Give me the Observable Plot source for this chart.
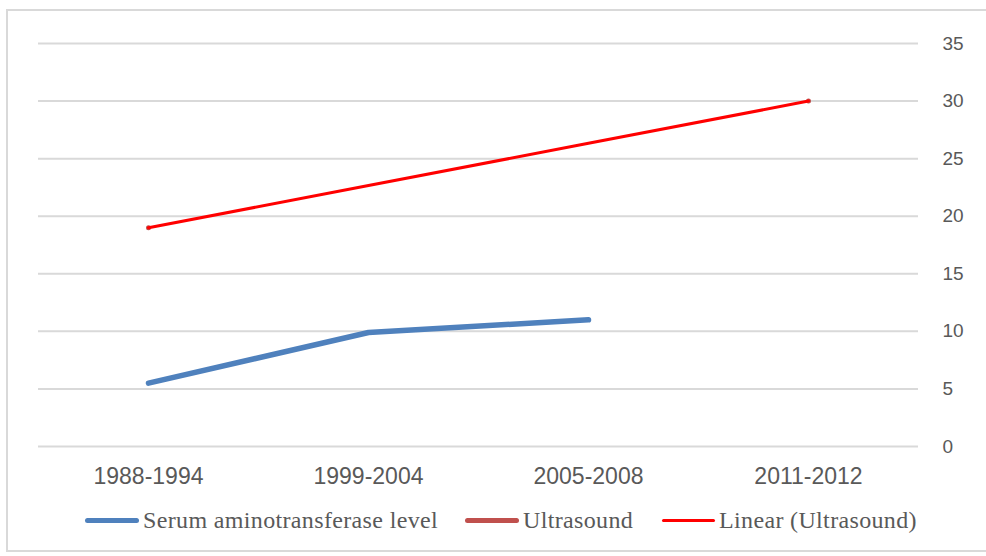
<!DOCTYPE html>
<html>
<head>
<meta charset="utf-8">
<script src="https://cdn.jsdelivr.net/npm/d3@7"></script>
<script src="https://cdn.jsdelivr.net/npm/@observablehq/plot@0.6"></script>
<style>
  html, body { margin: 0; padding: 0; background: #fff; }
  #wrap { position: relative; width: 986px; height: 556px; overflow: hidden; }
  #frame { position: absolute; left: 6px; top: 9px; width: 1000px; height: 543px; border: 2px solid #d9d9d9; box-sizing: border-box; }
  #chart { position: absolute; left: 0; top: 0; }
  .leg { position: absolute; top: 507px; height: 26px; display: flex; align-items: center;
         font-family: "Liberation Serif", serif; font-size: 24px; letter-spacing: 0.35px; color: #595959; white-space: nowrap; }
  .sw { display: inline-block; border-radius: 3px; margin-right: 4px; }
</style>
</head>
<body>
<div id="wrap">
  <div id="frame"></div>
  <div id="chart"></div>
  <div class="leg" style="left:85px"><span class="sw" style="width:54px;height:5px;background:#4F81BD"></span>Serum aminotransferase level</div>
  <div class="leg" style="left:465px"><span class="sw" style="width:54px;height:5px;background:#C0504D"></span>Ultrasound</div>
  <div class="leg" style="left:662px"><span class="sw" style="width:53px;height:3px;background:#FF0000"></span>Linear (Ultrasound)</div>
</div>
<script>
const categories = ["1988-1994", "1999-2004", "2005-2008", "2011-2012"];
const serum = [5.5, 9.9, 11.0, null];
const ultrasound = [19, null, null, 30];
const yTicks = [0, 5, 10, 15, 20, 25, 30, 35];

// linear trend of the Ultrasound series (least squares over its defined points)
const pts = ultrasound.map((v, i) => [i + 1, v]).filter(d => d[1] != null);
const mx = d3.mean(pts, d => d[0]), my = d3.mean(pts, d => d[1]);
const slope = d3.sum(pts, d => (d[0] - mx) * (d[1] - my)) / d3.sum(pts, d => (d[0] - mx) ** 2);
const trend = categories.map((c, i) => ({cat: c, v: my + slope * (i + 1 - mx)}));

const serumData = categories.map((c, i) => ({cat: c, v: serum[i]}));
const ultraData = categories.map((c, i) => ({cat: c, v: ultrasound[i]}));

const chart = Plot.plot({
  width: 986,
  height: 500,
  marginLeft: 38,
  marginRight: 68,
  marginTop: 43,
  marginBottom: 54,
  style: {fontFamily: "'Liberation Sans', Arial, sans-serif", color: "#595959", background: "transparent"},
  x: {type: "point", domain: categories, padding: 0.5},
  y: {domain: [0, 35]},
  marks: [
    Plot.ruleY(yTicks, {stroke: "#d9d9d9", strokeWidth: 2}),
    Plot.axisY({anchor: "right", ticks: yTicks, tickSize: 0, tickPadding: 24, fontSize: 19, label: null, fill: "#595959"}),
    Plot.axisX({anchor: "bottom", tickSize: 0, tickPadding: 21, fontSize: 23, label: null, fill: "#595959"}),
    Plot.line(ultraData, {x: "cat", y: "v", stroke: "#C0504D", strokeWidth: 5, defined: d => d.v != null}),
    Plot.line(trend, {x: "cat", y: "v", stroke: "#FF0000", strokeWidth: 3, strokeLinecap: "round"}),
    Plot.line(serumData, {x: "cat", y: "v", stroke: "#4F81BD", strokeWidth: 5.5, strokeLinecap: "round", strokeLinejoin: "round", defined: d => d.v != null})
  ]
});
document.getElementById("chart").appendChild(chart);
</script>
</body>
</html>
